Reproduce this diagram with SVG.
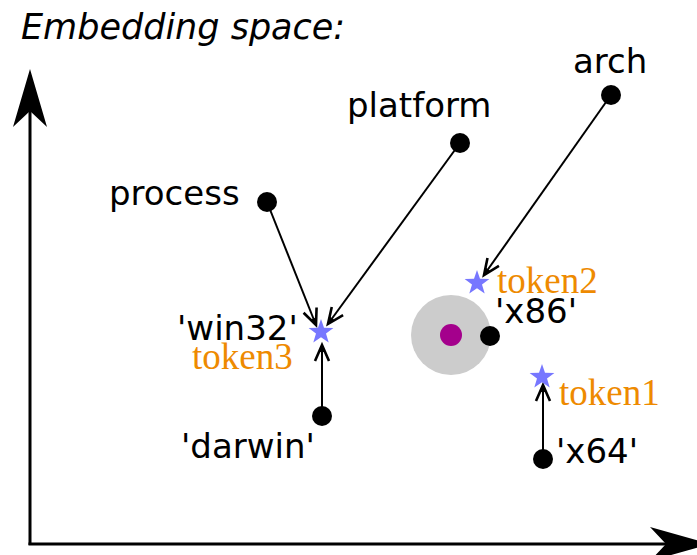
<svg xmlns="http://www.w3.org/2000/svg" width="697" height="555" viewBox="0 0 697 555">
  <defs>
    <style>
      .lbl { font-family: "DejaVu Sans", sans-serif; font-size: 34px; fill: #000; }
      .tok { font-family: "Liberation Serif", serif; font-size: 37px; fill: #ee8a00; }
      .title { font-family: "DejaVu Sans", sans-serif; font-size: 35px; font-style: italic; fill: #000; }
      .pt { fill: #000; }
      .star { fill: #7777ff; }
      .link { stroke: #000; stroke-width: 2; fill: none; }
      .axis { stroke: #000; stroke-width: 3; fill: none; }
    </style>
    <marker id="head" markerUnits="userSpaceOnUse" markerWidth="24" markerHeight="24" refX="0" refY="0" viewBox="-20 -12 24 24" orient="auto">
      <path d="M-16,-7 L0,0 L-16,7" stroke="#000" stroke-width="2.6" stroke-linejoin="miter" fill="none"/>
      <path d="M-7,-2.5 L0,0 L-7,2.5 Z" fill="#000"/>
    </marker>
    <polygon id="starShape" points="0,-13 3,-4.2 12.4,-4 5,1.6 7.7,10.5 0,5.2 -7.7,10.5 -5,1.6 -12.4,-4 -3,-4.2"/>
  </defs>

  <text class="title" x="21" y="39">Embedding space:</text>

  <!-- axes -->
  <g id="axes">
    <line class="axis" x1="30" y1="545" x2="30" y2="100"/>
    <line class="axis" x1="28.5" y1="544" x2="680" y2="544"/>
    <polygon points="30,69 47,127 30,111 13,127" fill="#000"/>
    <polygon points="710,544 650,527 666,544 650,561" fill="#000"/>
  </g>

  <!-- connectors -->
  <g id="connectors">
    <line class="link" x1="267" y1="202" x2="316" y2="325" marker-end="url(#head)"/>
    <line class="link" x1="460" y1="143" x2="328" y2="324" marker-end="url(#head)"/>
    <line class="link" x1="322" y1="416" x2="322" y2="345" marker-end="url(#head)"/>
    <line class="link" x1="611" y1="95" x2="484" y2="275" marker-end="url(#head)"/>
    <line class="link" x1="543" y1="458" x2="543" y2="385" marker-end="url(#head)"/>
  </g>

  <!-- neighbourhood around x86 -->
  <g id="neighbourhood">
    <circle cx="451" cy="335" r="40" fill="#cccccc"/>
    <circle cx="451" cy="335" r="11" fill="#a4008c"/>
  </g>

  <g id="process">
    <circle class="pt" cx="267" cy="202" r="10"/>
    <text class="lbl" x="109" y="205">process</text>
  </g>
  <g id="platform">
    <circle class="pt" cx="460" cy="143" r="10"/>
    <text class="lbl" x="347" y="117">platform</text>
  </g>
  <g id="arch">
    <circle class="pt" cx="611" cy="95" r="10"/>
    <text class="lbl" x="573" y="73">arch</text>
  </g>
  <g id="x86">
    <circle class="pt" cx="490" cy="336" r="10"/>
    <text class="lbl" x="495" y="323">'x86'</text>
  </g>
  <g id="darwin">
    <circle class="pt" cx="322" cy="416" r="10"/>
    <text class="lbl" x="181" y="458">'darwin'</text>
  </g>
  <g id="x64">
    <circle class="pt" cx="543" cy="459" r="10"/>
    <text class="lbl" x="556" y="463">'x64'</text>
  </g>

  <g id="token3">
    <use href="#starShape" class="star" transform="translate(321,332)"/>
    <text class="lbl" x="177" y="340">'win32'</text>
    <text class="tok" x="192" y="369">token3</text>
  </g>
  <g id="token2">
    <use href="#starShape" class="star" transform="translate(477,283)"/>
    <text class="tok" x="497" y="293">token2</text>
  </g>
  <g id="token1">
    <use href="#starShape" class="star" transform="translate(542,377)"/>
    <text class="tok" x="559" y="405">token1</text>
  </g>
</svg>
